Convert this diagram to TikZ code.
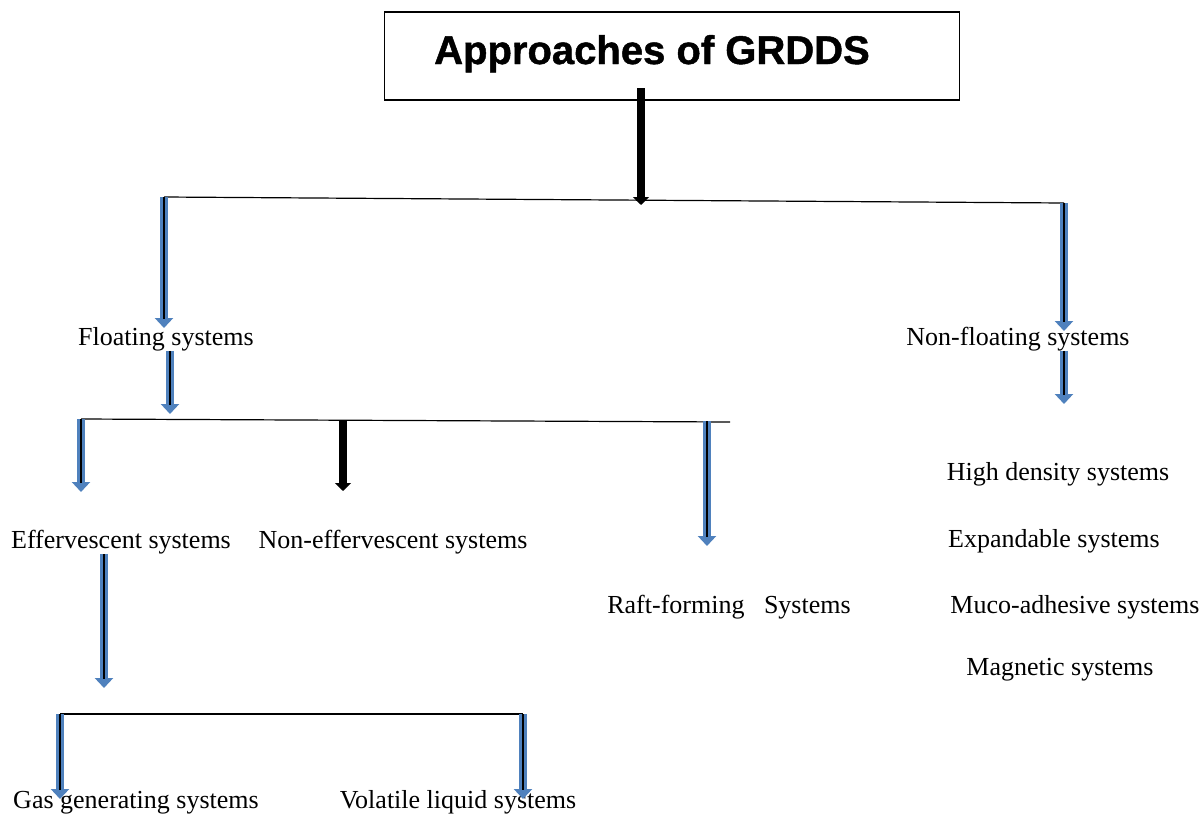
\documentclass[tikz,border=0pt]{standalone}
\usepackage{fontspec}
\setmainfont{Liberation Serif}
\newfontfamily\headfont[FakeBold=1.2]{Liberation Sans}
\usetikzlibrary{arrows.meta}

\definecolor{arrowblue}{RGB}{79,129,189}

\tikzset{
  txt/.style={anchor=base, inner sep=0pt, font=\fontsize{26}{30}\selectfont},
  branch/.style={line width=1.2pt},
  bluebody/.style={line width=8pt, draw=arrowblue, -{Triangle[width=18pt,length=10pt]}},
  bluecore/.style={line width=2.5pt, draw=black, shorten >=9pt},
  blackarrow/.style={line width=8pt, -{Triangle[width=16pt,length=8pt]}},
}

% blue block arrow with a dark core line
\newcommand{\bluearrow}[2]{
  \draw[bluebody] (#1) -- (#2);
  \draw[bluecore] (#1) -- (#2);
}

\begin{document}
\begin{tikzpicture}[x=1pt,y=-1pt]
\useasboundingbox (0,0) rectangle (1203,814);

% Title
\node[draw, line width=1.5pt, minimum width=575pt, minimum height=88pt] (titlebox) at (672,56) {};
\node[anchor=base, inner sep=0pt, font=\headfont\bfseries\fontsize{40}{44}\selectfont] (title) at (652,64) {Approaches of GRDDS};

% Text nodes
\node[txt] (floating)    at (166,345) {Floating systems};
\node[txt] (nonfloating) at (1018,345) {Non-floating systems};
\node[txt] (effer)       at (121,548) {Effervescent systems};
\node[txt] (noneffer)    at (393,548) {Non-effervescent systems};
\node[txt] (raft)        at (729,613) {Raft-forming\ \ \ Systems};
\node[txt] (highdens)    at (1058,480) {High density systems};
\node[txt] (expand)      at (1054,547) {Expandable systems};
\node[txt] (muco)        at (1075,613) {Muco-adhesive systems};
\node[txt] (magnetic)    at (1060,675) {Magnetic systems};
\node[txt] (gasgen)      at (136,808) {Gas generating systems};
\node[txt] (volatile)    at (458,808) {Volatile liquid systems};

% Branch points
\coordinate (top)  at (641,88);
\coordinate (b1L)  at (164,197);
\coordinate (b1M)  at (641,200);
\coordinate (b1R)  at (1064,203);
\coordinate (b2L)  at (81,419);
\coordinate (b2M)  at (343,420);
\coordinate (b2R)  at (707,421);
\coordinate (b2E)  at (730,422);
\coordinate (b3L)  at (60,714);
\coordinate (b3R)  at (523,714);

% Branch lines
\draw[branch] (b1L) -- (b1R);
\draw[branch] (b2L) -- (b2E);
\draw[branch] (b3L) -- (b3R);

% Arrows
\draw[blackarrow] (top) -- (b1M |- 0,205);
\bluearrow{b1L}{b1L |- 0,328}
\bluearrow{b1R}{b1R |- 0,331}
\bluearrow{nonfloating.south -| b1R}{b1R |- 0,404}
\bluearrow{floating.south -| 170,0}{170,414}
\bluearrow{b2L}{b2L |- 0,492}
\draw[blackarrow] (b2M) -- (b2M |- 0,491);
\bluearrow{b2R}{b2R |- 0,546}
\bluearrow{effer.south -| 104,0}{104,688}
\bluearrow{b3L}{b3L |- 0,799}
\bluearrow{b3R}{b3R |- 0,799}

\end{tikzpicture}
\end{document}
